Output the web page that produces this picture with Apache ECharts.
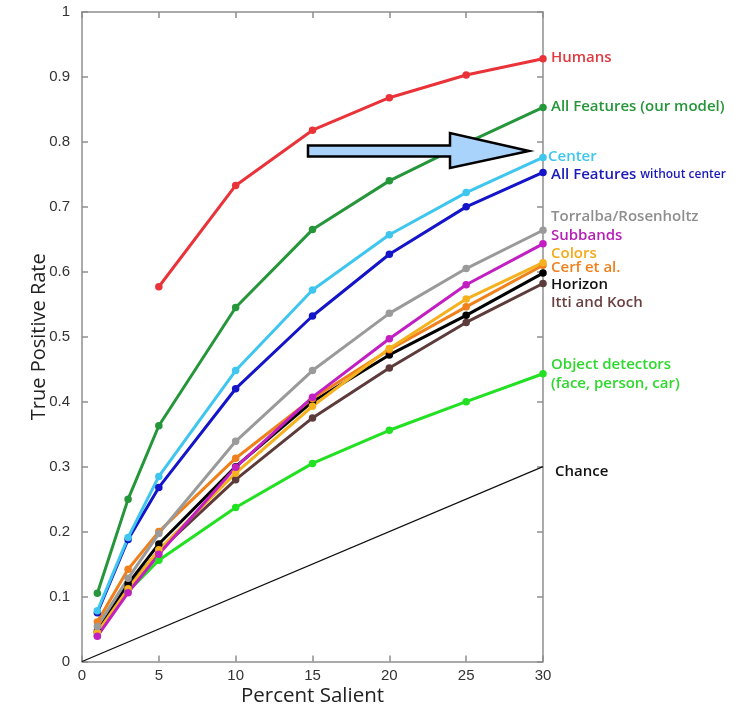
<!DOCTYPE html>
<html><head><meta charset="utf-8">
<script src="https://cdn.jsdelivr.net/npm/echarts@6/dist/echarts.min.js"></script>
<style>html,body{margin:0;padding:0;background:#fff}#c{width:739px;height:711px}</style>
</head><body><div id="c"></div>
<script>
var percentSalient = [1, 3, 5, 10, 15, 20, 25, 30];
var humansX = [5, 10, 15, 20, 25, 30];
var humans = [0.577, 0.733, 0.818, 0.868, 0.903, 0.928];
var allFeatures = [0.105, 0.250, 0.363, 0.545, 0.665, 0.740, 0.798, 0.853];
var center = [0.078, 0.191, 0.285, 0.448, 0.572, 0.657, 0.722, 0.776];
var allNoCenter = [0.075, 0.188, 0.268, 0.420, 0.532, 0.627, 0.700, 0.753];
var torralba = [0.054, 0.128, 0.197, 0.339, 0.448, 0.536, 0.605, 0.664];
var subbands = [0.039, 0.106, 0.165, 0.299, 0.407, 0.497, 0.580, 0.643];
var colorsS = [0.045, 0.112, 0.172, 0.290, 0.393, 0.482, 0.558, 0.614];
var cerf = [0.061, 0.142, 0.200, 0.313, 0.405, 0.480, 0.546, 0.610];
var horizon = [0.047, 0.120, 0.181, 0.300, 0.400, 0.472, 0.533, 0.598];
var ittiKoch = [0.044, 0.115, 0.170, 0.280, 0.375, 0.452, 0.522, 0.582];
var objectDet = [0.040, 0.108, 0.156, 0.237, 0.305, 0.356, 0.400, 0.443];
var chanceX = [0, 30];
var chance = [0, 0.3];
var yTicks = ['0','0.1','0.2','0.3','0.4','0.5','0.6','0.7','0.8','0.9','1'];

function pairs(xs, ys){ return xs.map(function(x,i){ return [x, ys[i]]; }); }

var labelFont = {fontFamily:'Open Sans', fontWeight:600, fontSize:15};
function mk(name, xs, ys, color, labelColor, offset, extra){
  var s = {
    name: name, type:'line', data: pairs(xs, ys),
    symbol:'circle', symbolSize:7.5, showSymbol:true,
    lineStyle:{color:color, width:3}, itemStyle:{color:color},
    z: 3,
    endLabel: Object.assign({show:true, formatter:name, color:labelColor, offset:offset, distance:8}, labelFont),
    animation:false
  };
  if (extra) Object.assign(s, extra);
  return s;
}

var chart = echarts.init(document.getElementById('c'));
var axisLineStyle = {color:'#8f8f8f', width:1.5};
var option = {
  animation:false,
  grid:{left:82, right:196, top:12, bottom:49.5, outerBoundsMode:'none', containLabel:false},
  xAxis:[{
    type:'value', min:0, max:30, interval:5,
    axisLine:{show:true, onZero:false, lineStyle:axisLineStyle},
    axisTick:{show:true, inside:true, length:6, lineStyle:axisLineStyle},
    axisLabel:{color:'#333', fontFamily:'Liberation Sans', fontSize:15, margin:7},
    splitLine:{show:false},
    name:'Percent Salient', nameLocation:'middle', nameGap:24, nameMoveOverlap:false,
    nameTextStyle:{fontFamily:'Open Sans', fontSize:20.5, color:'#222'}
  },{
    type:'value', min:0, max:30, interval:5, position:'top',
    axisLine:{show:true, onZero:false, lineStyle:axisLineStyle},
    axisTick:{show:true, inside:true, length:6, lineStyle:axisLineStyle},
    axisLabel:{show:false}, splitLine:{show:false}
  }],
  yAxis:[{
    type:'value', min:0, max:1, interval:0.1,
    axisLine:{show:true, onZero:false, lineStyle:axisLineStyle},
    axisTick:{show:true, inside:true, length:6, lineStyle:axisLineStyle},
    axisLabel:{color:'#333', fontFamily:'Liberation Sans', fontSize:15, margin:12,
      formatter:function(v){ return yTicks[Math.round(v*10)]; }},
    splitLine:{show:false},
    name:'True Positive Rate', nameLocation:'middle', nameGap:33, nameRotate:90, nameMoveOverlap:false,
    nameTextStyle:{fontFamily:'Open Sans', fontSize:20, color:'#222'}
  },{
    type:'value', min:0, max:1, interval:0.1, position:'right',
    axisLine:{show:true, onZero:false, lineStyle:axisLineStyle},
    axisTick:{show:true, inside:true, length:6, lineStyle:axisLineStyle},
    axisLabel:{show:false}, splitLine:{show:false}
  }],
  series:[
    mk('Chance', chanceX, chance, '#111', '#111', [4,5], {showSymbol:false, symbol:'none', lineStyle:{color:'#111', width:1.2}, z:2}),
    mk('Object detectors', percentSalient, objectDet, '#22e022', '#2ed82e', [0,0], {endLabel:Object.assign({show:true, color:'#2ed82e', offset:[0,0], distance:8, lineHeight:19, formatter:'Object detectors\n(face, person, car)'}, labelFont)}),
    mk('Itti and Koch', percentSalient, ittiKoch, '#5e3b3b', '#6b4040', [0,19]),
    mk('Horizon', percentSalient, horizon, '#000000', '#111111', [0,12]),
    mk('Cerf et al.', percentSalient, cerf, '#f0801c', '#f0801c', [0,2]),
    mk('Colors', percentSalient, colorsS, '#f5b21e', '#f5aa1a', [0,-9]),
    mk('Subbands', percentSalient, subbands, '#c21fc2', '#b51fb5', [0,-8]),
    mk('Torralba/Rosenholtz', percentSalient, torralba, '#9a9a9a', '#8e8e8e', [0,-13]),
    mk('All Features without center', percentSalient, allNoCenter, '#1414c8', '#1a1ab8', [0,2], {endLabel:Object.assign({show:true, color:'#1a1ab8', offset:[0,2], distance:8,
      formatter:'{a|All Features} {b|without center}', rich:{a:{fontFamily:'Open Sans', fontWeight:600, fontSize:15, color:'#1a1ab8'}, b:{fontFamily:'Open Sans', fontWeight:600, fontSize:12, color:'#1a1ab8'}}}, labelFont)}),
    mk('Center', percentSalient, center, '#3ec6ef', '#3ec6ef', [-3,-1]),
    mk('All Features (our model)', percentSalient, allFeatures, '#25963a', '#25963a', [0,-1]),
    mk('Humans', humansX, humans, '#ea3339', '#e03a40', [0,-1])
  ],
  graphic:[{
    type:'polygon', z:100,
    shape:{points:[[308,145.5],[450,145.5],[450,133],[529,151],[450,168],[450,156.5],[308,156.5]]},
    style:{fill:'#a9d3fa', stroke:'#000', lineWidth:2.5, lineJoin:'miter'}
  }]
};
chart.setOption(option);
</script></body></html>
